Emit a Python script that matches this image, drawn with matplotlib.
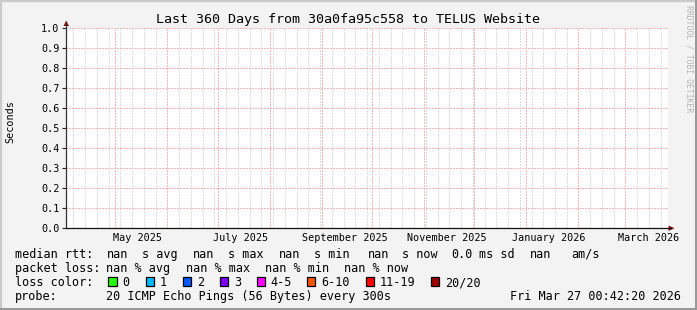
import datetime as dt
import matplotlib
matplotlib.use("Agg")
import matplotlib.pyplot as plt
from matplotlib.lines import Line2D
from matplotlib.patches import Polygon, Rectangle

W, H, DPI = 697, 310, 100
MONO = "DejaVu Sans Mono"

# Chart content
title = "Last 360 Days from 30a0fa95c558 to TELUS Website"
y_label = "Seconds"
y_ticks = [0.0, 0.1, 0.2, 0.3, 0.4, 0.5, 0.6, 0.7, 0.8, 0.9, 1.0]
x_start = dt.datetime(2025, 4, 1, 15, 0)
x_end = dt.datetime(2026, 3, 26, 8, 0)
label_months = [dt.datetime(2025, 5, 1), dt.datetime(2025, 7, 1), dt.datetime(2025, 9, 1),
                dt.datetime(2025, 11, 1), dt.datetime(2026, 1, 1), dt.datetime(2026, 3, 1)]
month_labels = ["May 2025", "July 2025", "September 2025", "November 2025",
                "January 2026", "March 2026"]

rtt_values = ["nan", "nan", "nan", "nan"]
rtt_names = ["avg", "max", "min", "now"]
rtt_sd = "0.0"
rtt_am = "nan"
loss_values = ["nan", "nan", "nan", "nan"]
loss_names = ["avg", "max", "min", "now"]
loss_labels = ["0", "1", "2", "3", "4-5", "6-10", "11-19", "20/20"]
loss_colors = ["#26ff00", "#00b8ff", "#0059ff", "#7e00ff", "#ff00ff", "#ff5500", "#ff0000", "#a10000"]
probe_text = "20 ICMP Echo Pings (56 Bytes) every 300s"
stamp = "Fri Mar 27 00:42:20 2026"
watermark = "RRDTOOL / TOBI OETIKER"


def fx(x):
    return x / W


def fy(y):
    return 1 - y / H


fig = plt.figure(figsize=(W / DPI, H / DPI), dpi=DPI, facecolor="#f3f3f3")

# rrdtool style shaded frame
fig.add_artist(Line2D([fx(0), fx(W)], [fy(0.8), fy(0.8)], color="#cbcbcb", lw=1.6))
fig.add_artist(Line2D([fx(0.8), fx(0.8)], [fy(0), fy(H)], color="#cbcbcb", lw=1.6))
fig.add_artist(Line2D([fx(0), fx(W)], [fy(H - 1.5), fy(H - 1.5)], color="#999999", lw=2.2))
fig.add_artist(Line2D([fx(W - 1.5), fx(W - 1.5)], [fy(0), fy(H)], color="#999999", lw=2.2))

ax = fig.add_axes([fx(66), fy(228), fx(668) - fx(66), fy(28) - fy(228)])
ax.set_facecolor("white")
ax.set_xlim(x_start, x_end)
ax.set_ylim(0, 1.0)
for s in ax.spines.values():
    s.set_visible(False)

# weekly minor grid (Sundays) and monthly major grid, dotted
GRID = dict(lw=0.72, dashes=(2, 2), antialiased=False)
d = dt.datetime(2025, 4, 6)
while d < x_end:
    ax.axvline(d, color="#dcdcdc", zorder=1, **GRID)
    d += dt.timedelta(days=7)
m = dt.datetime(2025, 5, 1)
while m < x_end:
    ax.axvline(m, color="#f7b4b4", zorder=2, **GRID)
    m = dt.datetime(m.year + (m.month // 12), m.month % 12 + 1, 1)
for v in y_ticks[1:]:
    ax.axhline(v, color="#f7b4b4", zorder=2, **GRID)

ax.set_yticks(y_ticks)
ax.set_yticklabels([f"{v:.1f}" for v in y_ticks], fontfamily=MONO, fontsize=7.3)
ax.tick_params(axis="y", length=3, width=0.8, pad=1.6, color="#222222")
ax.set_xticks([])
for mth, lab in zip(label_months, month_labels):
    ax.text(mth + dt.timedelta(days=13.5), -0.066, lab, transform=ax.get_xaxis_transform(),
            ha="center", va="baseline", fontfamily=MONO, fontsize=7.3)

# axes with arrows
fig.add_artist(Line2D([fx(66), fx(66)], [fy(228), fy(24)], color="#333333", lw=0.9))
fig.add_artist(Line2D([fx(66), fx(671)], [fy(228), fy(228)], color="#111111", lw=0.9))
fig.add_artist(Polygon([(fx(63.5), fy(26)), (fx(69), fy(26)), (fx(66.2), fy(20.5))],
                       closed=True, transform=fig.transFigure, color="#7f1515", lw=0))
fig.add_artist(Polygon([(fx(668.5), fy(225.5)), (fx(668.5), fy(231)), (fx(674.5), fy(228.2))],
                       closed=True, transform=fig.transFigure, color="#7f1515", lw=0))

fig.text(fx(348.5), fy(22.7), title, ha="center", va="baseline", fontfamily=MONO, fontsize=9.6)
fig.text(fx(10.5), fy(121.7), y_label, ha="center", va="center", rotation=90,
         fontfamily=MONO, fontsize=7.3)
fig.text(fx(688.5), fy(5), watermark, ha="center", va="top", rotation=270,
         fontfamily=MONO, fontsize=5.9, color="#b4b4b4")

# legend block
LF = 8.45
rows_y = [257.7, 272.0, 286.0, 300.0]


def put(x, y, s, **kw):
    fig.text(fx(x), fy(y), s, va="baseline", fontfamily=MONO, fontsize=LF, **kw)


row1 = ["median rtt:"]
for v, n in zip(rtt_values, rtt_names):
    row1 += [v, "s " + n]
row1 += [rtt_sd, "ms sd", rtt_am, "am/s"]
row1_x = [16, 107.3, 142.7, 193.3, 228.3, 280, 315, 368.3, 402.7, 451.7, 480, 530.7, 572.3]
for x, s in zip(row1_x, row1):
    put(x - 0.8, rows_y[0], s)

row2 = ["packet loss:"] + [f"{v} % {n}" for v, n in zip(loss_values, loss_names)]
row2_x = [16, 107.3, 186.7, 265.7, 345.3]
for x, s in zip(row2_x, row2):
    put(x - 0.8, rows_y[1], s)

put(15.2, rows_y[2], "loss color:")
swatch_x = [108.3, 145.7, 182.7, 220, 256.7, 307, 365.7, 430.7]
for x, lab, c in zip(swatch_x, loss_labels, loss_colors):
    fig.add_artist(Rectangle((fx(x), fy(285.5)), fx(8.3), fy(0) - fy(8.3),
                             transform=fig.transFigure, facecolor=c, edgecolor="black", lw=0.9))
    put(x + 14.0, rows_y[2], lab)

put(15.2, rows_y[3], "probe:")
put(106.5, rows_y[3], probe_text)
put(680.5, rows_y[3], stamp, ha="right")

fig.savefig("out.png", dpi=DPI, facecolor=fig.get_facecolor())
